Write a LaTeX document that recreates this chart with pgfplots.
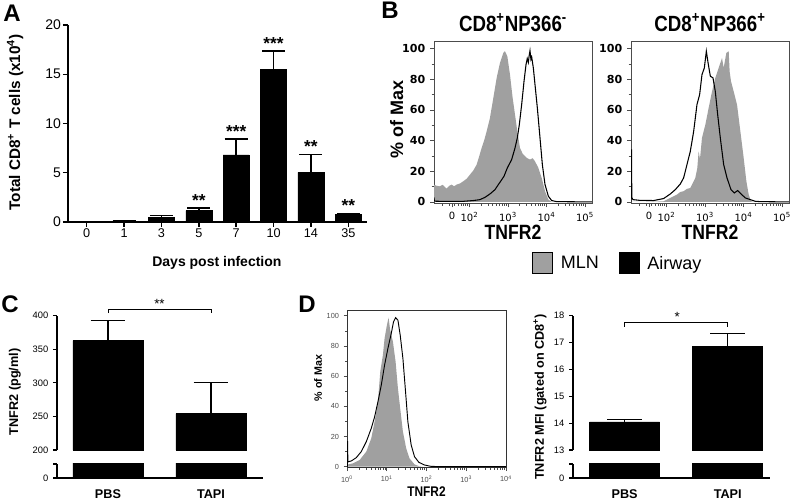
\documentclass[border=0pt]{standalone}
\usepackage{fontspec}
\setmainfont{Liberation Sans}
\newfontfamily\dejavu{DejaVu Sans}
\newfontfamily\narrow[FakeStretch=0.85]{Liberation Sans}
\usepackage{pgfplots}
\pgfplotsset{compat=1.18}
\definecolor{mlngray}{RGB}{160,160,160}
\pgfplotsset{
  every axis/.append style={scale only axis, anchor=south west, /pgf/number format/assume math mode=true},
  flowB/.style={
    width=118.5pt, height=121.65pt,
    xmin=1.08, xmax=5.18, ymin=-1, ymax=104.8,
    axis line style={draw=black!70, line width=0.6pt},
    tick pos=left, tick align=outside,
    every tick/.style={black!70, line width=0.5pt},
    major tick length=3pt, minor tick length=1.8pt,
    ytick={0,20,40,60,80,100}, minor ytick={10,30,50,70,90},
    xtick={1.55,2,3,4,5},
    xticklabels={0,10\textsuperscript{2},10\textsuperscript{3},10\textsuperscript{4},10\textsuperscript{5}},
    minor xtick={1.301,1.477,1.602,1.699,1.778,1.845,1.903,1.954,
                 2.301,2.477,2.602,2.699,2.778,2.845,2.903,2.954,
                 3.301,3.477,3.602,3.699,3.778,3.845,3.903,3.954,
                 4.301,4.477,4.602,4.699,4.778,4.845,4.903,4.954},
    yticklabel style={font=\dejavu\bfseries\fontsize{8.3}{9}\selectfont},
    xticklabel style={font=\dejavu\fontsize{7.5}{9}\selectfont},
    xlabel={TNFR2},
    xlabel style={font=\narrow\bfseries\fontsize{15.5}{16}\selectfont, at={(axis description cs:0.5,-0.221)}, anchor=base},
    title style={font=\narrow\bfseries\fontsize{16.5}{17}\selectfont, at={(axis description cs:0.5,1.0136)}, anchor=base},
  },
  barup/.style={
    height=100.7pt,
    axis x line=none, axis y line*=left,
    axis line style={line width=0.8pt},
    every tick/.style={black,line width=0.8pt}, tick align=outside, major tick length=3pt,
    yticklabel style={font=\fontsize{7}{8}\selectfont},
    ybar, bar width=52.5pt, clip mode=individual,
  },
  barlow/.style={
    height=10.5pt, ymin=0, ymax=1,
    axis x line*=bottom, axis y line*=left,
    axis line style={line width=0.8pt},
    every tick/.style={black,line width=0.8pt}, tick align=outside, major tick length=3pt,
    ytick={0,1}, yticklabels={0,{}},
    xtick={0,1}, xticklabels={PBS,TAPI}, xtick style={draw=none},
    xticklabel style={font=\fontsize{9.5}{11}\selectfont\bfseries, yshift=-2pt},
    yticklabel style={font=\fontsize{7}{8}\selectfont},
    ybar, bar width=52.5pt,
  },
}
\begin{document}
\begin{tikzpicture}
\useasboundingbox (0,0) rectangle (595.5pt,-374.25pt);

% ---------------- Panel A ----------------
\begin{axis}[
  at={(51pt,-166.5pt)}, width=224.25pt, height=147.75pt,
  xmin=-0.5, xmax=7.5, ymin=0, ymax=20,
  axis x line*=bottom, axis y line*=left,
  axis line style={line width=1.1pt},
  every tick/.style={black, line width=1.1pt},
  tick align=outside, major tick length=3.75pt,
  xtick={0,...,7}, xticklabels={0,1,3,5,7,10,14,35},
  ytick={0,5,10,15,20},
  xticklabel style={font=\fontsize{9.5}{11}\selectfont, yshift=2.5pt},
  yticklabel style={font=\fontsize{10.5}{12}\selectfont, xshift=2pt},
  xlabel={Days post infection},
  ylabel={Total CD8\textsuperscript{+} T cells (x10\textsuperscript{4})},
  xlabel style={font=\fontsize{10.5}{12}\selectfont\bfseries, at={(axis description cs:0.498,-0.228)}, anchor=base},
  ylabel style={font=\fontsize{11.5}{13}\selectfont\bfseries, at={(axis description cs:-0.177,0.505)}, anchor=center},
  ybar, bar width=19.5pt, clip=false,
]
\addplot[fill=black, draw=black, error bars/.cd, y dir=plus, y explicit,
  error bar style={line width=1.1pt}, error mark options={rotate=90, mark size=8.6pt, line width=1.1pt}]
 coordinates {(0,0.04) +- (0,0.02) (1,0.08) +- (0,0.03) (2,0.47) +- (0,0.17) (3,1.15) +- (0,0.27)
              (4,6.82) +- (0,1.59) (5,15.5) +- (0,1.86) (6,5.03) +- (0,1.84) (7,0.74) +- (0,0.15)};
\begin{scope}[every node/.style={anchor=base, inner sep=0pt, yshift=1.5pt, font=\bfseries\fontsize{13}{13}\selectfont}]
\node at (axis cs:3,1.42) {**};
\node at (axis cs:4,8.41) {***};
\node at (axis cs:5,17.36) {***};
\node at (axis cs:6,6.87) {**};
\node at (axis cs:7,0.89) {**};
\end{scope}
\end{axis}

% ---------------- Panel B left ----------------
\begin{axis}[flowB, at={(325.5pt,-152.6pt)},
  title={CD8\textsuperscript{+}NP366\textsuperscript{-}},
  ylabel={\% of Max},
  ylabel style={font=\bfseries\fontsize{13.5}{14}\selectfont, at={(axis description cs:-0.236,0.515)}, anchor=center},
  legend style={at={(axis description cs:1.158,-0.364)}, anchor=center, draw=none, fill=none,
    legend columns=2, font=\fontsize{13.5}{14}\selectfont, inner sep=0pt,
    nodes={inner sep=0pt, text depth=0pt},
    /tikz/every odd column/.append style={column sep=6pt},
    /tikz/every even column/.append style={column sep=15pt}},
  legend image code/.code={\fill[#1] (0pt,-7.7pt) rectangle (15pt,7.7pt);},
]
\addlegendimage{fill=mlngray}
\addlegendentry{MLN}
\addlegendimage{fill=black}
\addlegendentry{Airway}
\addplot[fill=mlngray, draw=none, forget plot] coordinates {
 (1.078,0) (1.078,11.3) (1.15,10.5) (1.234,10.2) (1.30,11.2) (1.407,8.7) (1.47,10.4) (1.537,11.3) (1.60,10.2)
 (1.667,11.3) (1.75,12.0) (1.840,13.5) (1.93,15.2) (2.013,17.8) (2.10,20.5) (2.186,24.3) (2.25,29.5) (2.316,35.2)
 (2.38,40.0) (2.446,46) (2.532,54.8) (2.619,67.8) (2.706,80.9) (2.792,90.7) (2.879,97.2) (2.922,98.3)
 (2.983,95) (3.052,83) (3.121,67.8) (3.182,57) (3.242,46) (3.312,35.2) (3.38,31.5) (3.442,29.8) (3.50,28.5)
 (3.571,27.6) (3.64,28.5) (3.701,26.5) (3.788,22.2) (3.874,15.7) (3.961,7) (4.048,1.5) (4.134,0)} -- cycle;
\addplot[black, line width=0.8pt, forget plot] coordinates {
 (1.078,3) (1.09,0.5) (1.234,0.4) (1.84,0.4) (2.1,0.9) (2.273,1.5) (2.403,3) (2.532,5.2) (2.662,8)
 (2.749,11.3) (2.81,13.5) (2.896,16.7) (2.983,22.2) (3.095,27.6) (3.182,35.2) (3.242,41.7) (3.294,50.4)
 (3.355,63.5) (3.416,78.7) (3.468,89.6) (3.50,93.5) (3.528,91) (3.55,95.5) (3.571,98.7) (3.595,93)
 (3.615,94.5) (3.658,87.4) (3.701,76.5) (3.762,61.3) (3.831,41.7) (3.892,24.3) (3.961,11.3)
 (4.048,3.7) (4.134,0.9) (4.264,0.2) (5.18,0)};
\end{axis}

% ---------------- Panel B right ----------------
\begin{axis}[flowB, at={(473.25pt,-152.6pt)},
  title={CD8\textsuperscript{+}NP366\textsuperscript{+}},
]
\addplot[fill=mlngray, draw=none] coordinates {
 (1.078,0) (1.494,0) (1.926,0.4) (2.1,2.6) (2.273,4.8) (2.36,6.5) (2.446,7) (2.53,8.5) (2.619,9.1) (2.749,15.7)
 (2.80,22) (2.835,33) (2.87,28) (2.922,41.7) (3.009,50.4) (3.095,61.3) (3.182,72) (3.268,80.9)
 (3.355,87.4) (3.442,93.9) (3.485,87.4) (3.554,97.2) (3.615,98.3) (3.64,85) (3.675,78.7) (3.745,72)
 (3.831,63.5) (3.918,46) (4.004,28.7) (4.074,13.5) (4.134,4.8) (4.195,0.4) (4.264,0)} -- cycle;
\addplot[black, line width=0.8pt] coordinates {
 (1.078,0) (1.08,34) (1.095,34) (1.10,3) (1.13,1.5) (1.32,1) (1.667,0.9) (1.926,2.2) (2.1,5.2)
 (2.229,8) (2.359,11.7) (2.446,15.7) (2.532,24.3) (2.619,33) (2.706,46) (2.792,63.5) (2.861,70)
 (2.922,83) (2.983,87.4) (3.035,98.3) (3.087,89.6) (3.139,82) (3.208,80.9) (3.268,72) (3.329,57)
 (3.398,41.7) (3.485,24.3) (3.571,15.7) (3.675,8) (3.762,5.9) (3.848,7.4) (3.935,5.2) (4.048,2.6)
 (4.177,1.5) (4.307,0.4) (4.437,0.2) (5.18,0)};
\end{axis}

% ---------------- Panel C ----------------
\begin{axis}[barup, at={(42.75pt,-337.5pt)}, width=154.5pt,
  xmin=-0.495, xmax=1.505, ymin=200, ymax=400,
  ytick={200,250,300,350,400},
  ylabel={TNFR2 (pg/ml)},
  ylabel style={font=\fontsize{9.5}{11}\selectfont\bfseries, at={(axis description cs:-0.204,0.432)}, anchor=center},
]
\addplot[fill=black, draw=black, error bars/.cd, y dir=plus, y explicit,
  error bar style={line width=0.8pt}, error mark options={rotate=90, mark size=13pt, line width=0.8pt}]
  coordinates {(0,363) +- (0,29.5) (1,254) +- (0,46)};
\draw[line width=0.7pt] (axis cs:0,403.9) -- (axis cs:0,409.8) -- (axis cs:1,409.8) -- (axis cs:1,403.9);
\node[anchor=base, inner sep=0pt, font=\fontsize{10}{10}\selectfont] at (axis cs:0.5,411.5) {**};
\end{axis}
\begin{axis}[barlow, at={(42.75pt,-358.5pt)}, width=154.5pt, xmin=-0.495, xmax=1.505]
\addplot[fill=black, draw=black] coordinates {(0,363) (1,254)};
\end{axis}

% ---------------- Panel D histogram ----------------
\begin{axis}[at={(260.25pt,-350.8pt)}, width=119.25pt, height=118.3pt,
  xmode=log, xmin=1, xmax=10000, ymin=-0.7, ymax=103.8,
  axis line style={draw=black!80, line width=0.5pt},
  tick pos=left, tick align=outside,
  every tick/.style={black!70, line width=0.4pt},
  major tick length=2.5pt, minor tick length=1.5pt,
  ytick={0,20,40,60,80,100}, minor ytick={10,30,50,70,90},
  xtick={1,10,100,1000,10000},
  xticklabels={10\textsuperscript{0},10\textsuperscript{1},10\textsuperscript{2},10\textsuperscript{3},10\textsuperscript{4}},
  tick label style={font=\fontsize{5.5}{6}\selectfont, text=black!70},
  xlabel={TNFR2}, xlabel style={font=\narrow\bfseries\fontsize{10.5}{11}\selectfont, at={(axis description cs:0.5,-0.152)}, anchor=center},
  ylabel={\% of Max}, ylabel style={font=\fontsize{8}{9}\selectfont\bfseries, at={(axis description cs:-0.182,0.569)}, anchor=center},
]
\addplot[fill=mlngray, draw=none] coordinates {
 (1.06,0) (1.06,1.5) (1.415,2.2) (2.08,4.4) (3.06,10) (4.08,18.8) (4.95,29.8) (6.0,43) (6.87,63)
 (8.01,74) (8.82,85) (10.1,93.8) (11.1,98.7) (12.2,90.5) (14.3,82.8) (16.7,69.5) (19.1,51.9)
 (21.8,38.6) (25.5,23.2) (30.9,12.1) (37.4,5.5) (50,1.5) (66.7,0.2) (80,0)} -- cycle;
\addplot[black, line width=0.7pt] coordinates {
 (1.02,0) (1.02,16.6) (1.04,16.6) (1.05,3) (1.08,3.3) (1.285,3.8) (1.715,6) (2.29,10) (3.06,16.6)
 (4.08,25.4) (4.95,33) (6.0,43) (7.28,54) (8.82,67.3) (10.7,78.4) (13.0,88.3) (14.8,96) (16.7,98.7)
 (19.1,97.1) (21.8,87.2) (25.5,71.7) (29.7,49.7) (34.0,29.8) (41.2,14.3) (50,6.6) (64.2,2.9)
 (89.1,1.1) (131,0.2) (257,0) (10000,0)};
\end{axis}

% ---------------- Panel D bars ----------------
\begin{axis}[barup, at={(429.75pt,-337.5pt)}, width=147.75pt,
  xmin=-0.5, xmax=1.41, ymin=13, ymax=18,
  ytick={13,14,15,16,17,18},
  ylabel={TNFR2 MFI (gated on CD8\textsuperscript{+})},
  ylabel style={font=\fontsize{9.5}{11}\selectfont\bfseries, at={(axis description cs:-0.1675,0.395)}, anchor=center},
]
\addplot[fill=black, draw=black, error bars/.cd, y dir=plus, y explicit,
  error bar style={line width=0.8pt}, error mark options={rotate=90, mark size=13pt, line width=0.8pt}]
  coordinates {(0,14.05) +- (0,0.08) (1,16.86) +- (0,0.48)};
\draw[line width=0.7pt] (axis cs:0,17.59) -- (axis cs:0,17.74) -- (axis cs:1,17.74) -- (axis cs:1,17.59);
\node[anchor=base, inner sep=0pt, font=\fontsize{10}{10}\selectfont] at (axis cs:0.51,17.8) {*};
\end{axis}
\begin{axis}[barlow, at={(429.75pt,-358.5pt)}, width=147.75pt, xmin=-0.5, xmax=1.41]
\addplot[fill=black, draw=black] coordinates {(0,14.05) (1,16.86)};
\end{axis}

% ---------------- Panel letters ----------------
\begin{scope}[every node/.style={inner sep=0pt, anchor=center, font=\bfseries\fontsize{18}{18}\selectfont}]
\node at (9pt,-9.75pt) {A};
\node at (292.5pt,-7.5pt) {B};
\node at (7.5pt,-228pt) {C};
\node at (230.25pt,-228pt) {D};
\end{scope}
\end{tikzpicture}
\end{document}
